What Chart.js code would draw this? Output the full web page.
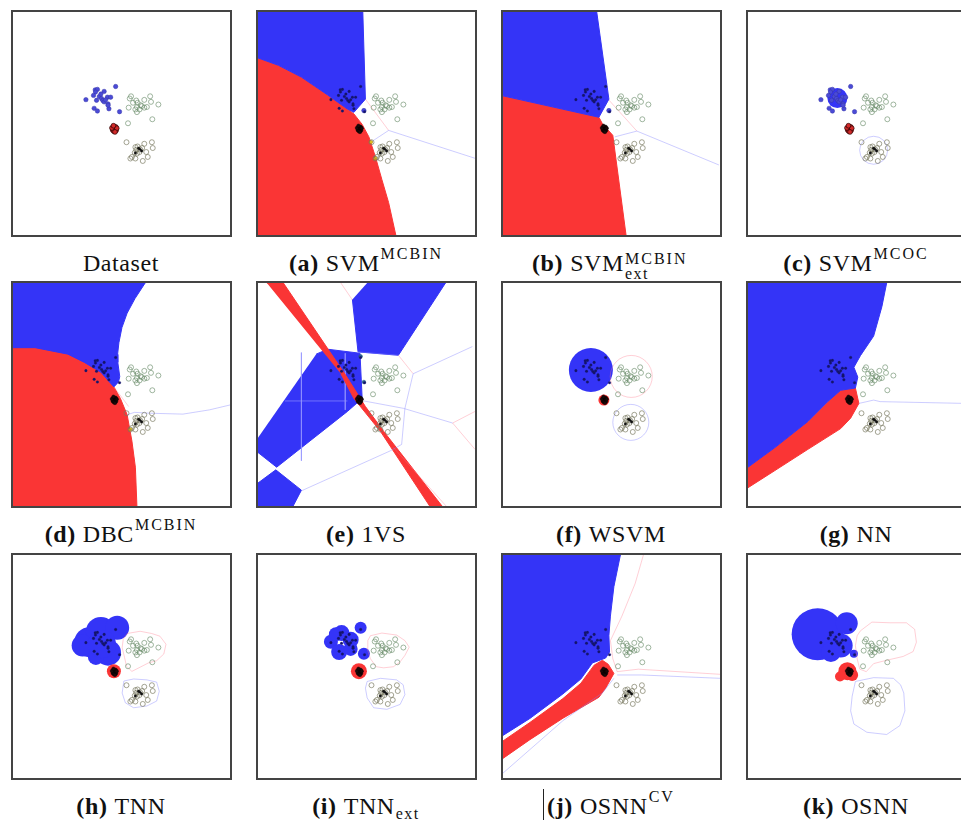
<!DOCTYPE html>
<html>
<head>
<meta charset="utf-8">
<script src="https://cdn.jsdelivr.net/npm/chart.js@4.4.0/dist/chart.umd.min.js"></script>
<style>
  body { margin: 0; background: #fff; width: 961px; height: 822px; overflow: hidden; position: relative; font-family: "Liberation Serif", serif; }
  .panel { position: absolute; width: 217px; height: 223px; border: 2px solid #444; background: #fff; }
  .panel canvas { display: block; }
  .cap { position: absolute; width: 320px; text-align: center; font-size: 24px; line-height: 24px; color: #111; letter-spacing: 0.6px; white-space: nowrap; }
  .cap b { margin-right: 7px; }
  .up { font-size: 16px; position: relative; top: -12px; letter-spacing: 2px; margin-left: 1px; }
  .dn { font-size: 16px; position: relative; top: 5px; letter-spacing: 1.5px; margin-left: 1px; }
  .ss { display: inline-block; position: relative; width: 66px; height: 10px; }
  .ss .a { position: absolute; left: 1px; top: -14px; font-size: 16px; letter-spacing: 2px; }
  .ss .b { position: absolute; left: 1px; top: 1px; font-size: 16px; letter-spacing: 1.5px; }
  .cursor { position: absolute; left: 543px; top: 789px; width: 1px; height: 31px; background: #222; }
</style>
</head>
<body>
<div class="cursor"></div>
<script>
// clusters (x 0-100 left to right, y 0-100 bottom to top)
const blueCluster = [[37.9,65.1],[38.9,65.3],[38.0,64.1],[37.1,62.6],[39.8,62.1],[42.0,64.4],[40.8,61.2],[41.4,60.3],[43.5,61.8],[45.0,61.8],[47.3,66.6],[33.6,60.7],[38.5,60.4],[42.0,59.7],[43.8,58.8],[44.2,56.6],[37.4,56.8],[38.9,55.6],[49.1,55.3],[42.7,60.6],[40.5,63.2],[43.8,58.2]];
const redCluster = [[46.2,48.3],[47.3,48.5],[46.8,47.5],[46.0,47.0],[47.5,46.9],[46.5,46.5],[47.8,47.9],[45.6,48.0],[47.0,46.2],[46.3,49.0]];
const greenCluster = [[53.8,61.2],[54.4,62.2],[56.8,60.3],[57.4,59.3],[60.5,60.6],[63.2,62.2],[63.6,59.7],[67.0,58.5],[53.3,57.1],[57.1,57.4],[58.3,56.3],[59.4,57.8],[60.5,57.1],[61.7,57.4],[58.8,58.2],[55.3,59.3],[57.1,55.1],[64.2,51.9],[53.0,50.1],[56.4,56.3]];
const lowerCluster = [[52.3,41.6],[56.4,39.4],[57.4,39.7],[58.6,38.4],[60.5,40.9],[64.0,41.6],[64.4,39.0],[57.1,36.5],[58.3,37.2],[61.4,37.2],[54.8,35.0],[56.4,34.3],[54.1,34.3],[59.8,33.2],[62.1,35.0],[56.1,36.9],[59.5,39.0],[56.8,38.2]];
const lowerCore = [[58.6,38.4],[59.3,37.7],[57.9,38.9],[56.4,36.8]];

// (a) SVM MCBIN
const svmBlue = [[0,100],[48.3,100],[49.5,60.9],[44.2,55.0],[41.2,56.5],[32.1,62.8],[20,70.8],[9.4,76.1],[0,79.4]];
const svmRed = [[0,79.4],[9.4,76.1],[20,70.8],[32.1,62.8],[41.2,56.5],[44.2,54.3],[48,49.6],[51.1,44.0],[54.1,35.1],[57.1,24.8],[60.2,14.5],[63.5,0],[0,0]];
const svmPink = [[49.5,60.9],[60.2,46.9]];
const svmLav = [[52.1,41.7],[60.2,46.9],[100,34.4]];
const svmMiss = [[48.8,55.8]];
const svmYellow = [[52.1,41.7],[54.1,34.4]];

// (b) SVM MCBIN ext
const extBlue = [[0,100],[43.2,100],[48.8,60.9],[44.2,52.8],[0,62.4]];
const extRed = [[0,62.4],[44.2,52.8],[45.8,49.9],[50.6,44.7],[56.7,0],[0,0]];
const extPink = [[48.8,60.5],[61.7,46.6]];
const extLav = [[51.5,44],[61.7,46.6],[99.5,31.4]];

// (c) SVM MCOC
const ocBlue = [[41.2,61.4]];
const ocRing = [[57.9,38]];

// (d) DBC MCBIN
const dbcBlue = [[0,100],[60.9,100],[56.2,93],[52.6,86.5],[50.2,80],[48.8,73.2],[48.2,68],[48.3,64.4],[49.2,58],[48.6,55.6],[46.5,53.4],[40.5,60],[32.9,64.4],[25.3,68.1],[10.2,71],[0,71]];
const dbcRed = [[0,71],[10.2,71.3],[25.3,68.4],[32.9,64.7],[40.5,60.3],[46.5,53.4],[49.5,48.2],[52.6,40.9],[54.8,29.1],[56.4,17.4],[57.1,0],[0,0]];
const dbcLav = [[52.6,40.9],[56,42],[63.2,41.6],[78.3,41.2],[90.5,43.1],[100,45.3]];
const dbcPink = [[46.5,53.4],[53.3,44.6]];
const dbcYellow = [[54.1,34.4]];

// (e) 1VS
const vsRed = [[4.1,100],[11.7,100],[40.5,58.5],[49.5,44.6],[57.9,33.5],[84.8,0],[79.1,0],[56.4,33.5],[44.2,48.2],[38.2,59.3]];
const vsBlueTop = [[50.3,100],[86.4,100],[64.7,67.6],[46.1,69.1],[43.5,92.6]];
const vsBlueMid = [[26.8,68.1],[32.1,70.3],[47,68.5],[48,48.2],[41.2,42.4],[8.6,17.4],[0,24],[0,30.6]];
const vsBlueLow = [[0,10.3],[8.2,16.2],[20,7.1],[16.2,0],[0,0]];
const vsPinkLines = [[[38.2,100],[43.5,92.4]],[[64.7,67.6],[71.5,59.3]],[[100,42.4],[89.7,37.2],[100,25.4]],[[62.4,26.2],[86.7,0]]];
const vsLavLines = [[[71.5,59.3],[98.8,71.5]],[[46.1,69.1],[64.7,67.6]],[[71.5,59.3],[67.7,43.8],[66.2,27.6]],[[48.8,47.1],[67,43.8],[89.7,37.2]],[[20,6.8],[60.9,24.7],[66.2,27.6]]];
const vsGridLines = [[[20,68.8],[20,20.3]],[[12.4,47.1],[41.2,47.1]],[[40.2,68.5],[40.2,43.1]]];
const vsMiss = [[47.3,67.1],[48.8,55.6]];

// (f) WSVM
const wsvmBlue = [[40.5,61]];
const wsvmRed = [[46.5,47.5]];
const wsvmPink = [[59.1,58.1]];
const wsvmLav = [[58.9,37.5]];

// (g) NN
const nnBlue = [[0,100],[63.9,100],[61.7,89.4],[57.9,76.2],[51.8,67.4],[48.8,62.2],[50.6,57.8],[49.5,52.9],[42.7,51.9],[36.7,46.8],[27.6,37.9],[12.4,26.2],[0,17.4]];
const nnRed = [[0,17.4],[12.4,26.2],[27.6,37.9],[36.7,46.8],[42.7,51.9],[49.5,52.9],[51.1,46],[47.3,39.4],[42.7,34.7],[27.6,25.4],[12.4,15.9],[0,8.2]];
const nnLav = [[51.1,46],[54.8,46.8],[57.9,47.5],[60.9,46.8],[100,46]];

// (h) TNN
const tnnBlue = [[35.2,60.9],[40.5,65.5],[48.0,67.4],[43.8,56.2],[32.1,59.4],[38.2,54.3],[41,60]];
const tnnRed = [[46.5,47.9]];
const tnnPink = [[52.6,64.8],[58.6,65.8],[63.9,64.8],[67.7,63.6],[70.5,60],[69.5,55.6],[66.2,52.6],[62.4,51.6],[58.6,49.7],[54.8,47.8],[52.3,50.1],[51.4,54.1],[50.3,58.5],[50.8,62.2],[52.6,64.8]];
const tnnLav = [[51.1,43.5],[55.6,44.4],[61.7,44],[66.2,43],[67.4,38.9],[66.2,34.5],[61.7,32.3],[55.6,31.5],[51.8,33.7],[50.3,38.1],[51.1,43.5]];

// (i) TNN ext
const extnBlue = [[33.6,61.1],[38.5,65],[42.7,62],[47.3,67.4],[48.8,55.7],[37.4,56.5],[42.7,57.9],[35.9,64.5]];
const extnRed = [[46.5,47.9]];
const extnPink = [[51.8,63.8],[57.1,65],[63.9,64.1],[67.7,61.6],[69.7,58.7],[67.7,55],[65.5,52.1],[62.4,49.9],[57.9,49.4],[54.5,49.9],[51.8,53.5],[50.3,58],[50.6,61.6],[51.8,63.8]];
const extnLav = [[50.3,43.3],[56.4,44.7],[63.9,44],[66.9,41.8],[67.7,37.4],[65.5,33],[59.4,30.8],[53.3,31.5],[50.3,35.9],[49.5,40.3],[50.3,43.3]];

// (j) OSNN CV
const cvBlue = [[0,100],[54.1,100],[51.1,85.8],[49.5,72.6],[48.8,63.8],[49.1,56.5],[47.3,53.8],[41.2,51.6],[35.9,44.4],[27.6,37.7],[12.4,26.7],[0,19.1]];
const cvRed = [[0,16.6],[12.4,24.9],[27.6,35.6],[35.9,42.5],[42,50.6],[45.8,52.8],[48.5,51],[51.1,46.9],[47.3,40.3],[44.2,36.2],[27.6,26.8],[12.4,17.2],[0,8.8]];
const cvPink = [[64.7,100],[60.9,87.2],[54.8,72.6],[49.5,61.6],[50.6,53.5],[52.6,47.7],[62.4,48.8],[100,46.5]];
const cvLavA = [[52.6,46.2],[63.9,46.2],[100,44.7]];
const cvLavB = [[51.1,44.7],[45.8,38.1],[38.2,33],[27.6,25.7],[0,2.2]];

// (k) OSNN
const osnnBlue = [[32.1,64.5],[45.5,69.4],[42.7,59.4],[48.8,55.7],[38.2,56.5]];
const osnnRed = [[45.8,47.9],[42.4,45.5],[48,46.2]];
const osnnPink = [[51.8,66],[57.1,69.9],[65.5,69.6],[73,69.6],[76.8,66.7],[77.6,60.9],[76.1,56.7],[71.5,54.5],[63.9,52.8],[57.9,51.3],[54.5,47.7],[51.5,48.8],[50.3,53.5],[49.5,59.4],[50.3,63.8],[51.8,66]];
const osnnLav = [[49.5,43.3],[57.9,45],[67,44.7],[70.3,41.8],[71.8,38.1],[72.3,30.1],[70,23.5],[63.9,19.5],[54.8,20.5],[48.8,24.2],[47.3,30.1],[48,36.7],[49.5,43.3]];

const captions = [
  "Dataset",
  "<b>(a)</b>SVM<span class='up'>MCBIN</span>",
  "<b>(b)</b>SVM<span class='ss'><span class='a'>MCBIN</span><span class='b'>ext</span></span>",
  "<b>(c)</b>SVM<span class='up'>MCOC</span>",
  "<b>(d)</b>DBC<span class='up'>MCBIN</span>",
  "<b>(e)</b>1VS",
  "<b>(f)</b>WSVM",
  "<b>(g)</b>NN",
  "<b>(h)</b>TNN",
  "<b>(i)</b>TNN<span class='dn'>ext</span>",
  "<b>(j)</b>OSNN<span class='up'>CV</span>",
  "<b>(k)</b>OSNN"
];

const BLUE = "#3434f7";
const RED = "#fa3535";
const PINK = "rgba(255,120,140,0.45)";
const LAV = "rgba(130,130,255,0.5)";

function xy(list) {
  return list.map(function (p) { return { x: p[0], y: p[1] }; });
}

function area(list, color) {
  return { data: xy(list), showLine: true, fill: "shape", backgroundColor: color, borderColor: color, borderWidth: 1, pointRadius: 0, tension: 0 };
}

function edge(list, color, width) {
  return { data: xy(list), showLine: true, fill: false, borderColor: color, borderWidth: width || 0.8, pointRadius: 0, tension: 0 };
}

function blob(list, sizes, color) {
  return { data: xy(list), pointRadius: sizes, pointBackgroundColor: color, pointBorderWidth: 0 };
}

function ring(list, sizes, color) {
  return { data: xy(list), pointRadius: sizes, pointBackgroundColor: "rgba(0,0,0,0)", pointBorderColor: color, pointBorderWidth: 0.8 };
}

function dots(list, r, fillColor, lineColor, w) {
  return { data: xy(list), pointRadius: r, pointBackgroundColor: fillColor, pointBorderColor: lineColor, pointBorderWidth: w };
}

function clusters(plain) {
  return [
    dots(greenCluster, 2.5, "rgba(255,255,255,0)", "rgba(105,140,105,0.8)", 0.8),
    dots(lowerCluster, 2.5, "rgba(255,255,255,0)", "rgba(120,120,95,0.85)", 0.8),
    dots(lowerCore, 1.2, "#111", "#111", 0.4),
    plain ? dots(blueCluster, 2.2, "#4b4bd6", "#3434a8", 0.5) : dots(blueCluster, 1.3, "#15156a", "#15156a", 0.3),
    plain ? dots(redCluster, 2.4, "#d22a2a", "#2a0000", 0.7) : dots(redCluster, 1.8, "#1a0808", "#000", 0.4)
  ];
}

// each entry: layers from bottom to top
const layers = [
  clusters(true),
  [area(svmRed, RED), area(svmBlue, BLUE), edge(svmPink, PINK), edge(svmLav, LAV),
    dots(svmMiss, 2.2, "#4545e0", "#2d2da0", 0.5), dots(svmYellow, 1.6, "#e0c020", "#a08000", 0.5)].concat(clusters(false)),
  [area(extRed, RED), area(extBlue, BLUE), edge(extPink, PINK), edge(extLav, LAV),
    dots(svmMiss, 2.2, "#4545e0", "#2d2da0", 0.5)].concat(clusters(false)),
  [blob(ocBlue, 10, BLUE), ring(ocRing, 14, LAV)].concat(clusters(true)),
  [area(dbcRed, RED), area(dbcBlue, BLUE), edge(dbcLav, LAV), edge(dbcPink, PINK),
    dots(dbcYellow, 1.6, "#e0c020", "#a08000", 0.5)].concat(clusters(false)),
  [area(vsBlueTop, BLUE), area(vsBlueMid, BLUE), area(vsBlueLow, BLUE)]
    .concat(vsGridLines.map(function (l) { return edge(l, "rgba(150,150,255,0.8)", 0.8); }))
    .concat([area(vsRed, RED)])
    .concat(vsPinkLines.map(function (l) { return edge(l, PINK); }))
    .concat(vsLavLines.map(function (l) { return edge(l, LAV); }))
    .concat([dots(vsMiss, 1.8, "#2e6f9a", "#1e4f70", 0.5)])
    .concat(clusters(false)),
  [blob(wsvmBlue, 22, BLUE), blob(wsvmRed, 5.5, RED), ring(wsvmPink, 21, PINK), ring(wsvmLav, 18, LAV)].concat(clusters(false)),
  [area(nnRed, RED), area(nnBlue, BLUE), edge(nnLav, LAV)].concat(clusters(false)),
  [blob(tnnBlue, [15, 15, 12, 13, 11, 8, 14], BLUE), blob(tnnRed, 7, RED), edge(tnnPink, PINK), edge(tnnLav, LAV)].concat(clusters(false)),
  [blob(extnBlue, [7, 8, 8, 6, 6, 8, 7, 7], BLUE), blob(extnRed, 8, RED), edge(extnPink, PINK), edge(extnLav, LAV)].concat(clusters(false)),
  [area(cvRed, RED), area(cvBlue, BLUE), edge(cvPink, PINK), edge(cvLavA, LAV), edge(cvLavB, LAV)].concat(clusters(false)),
  [blob(osnnBlue, [26, 11, 12, 4, 10], BLUE), blob(osnnRed, [9, 5, 6], RED), edge(osnnPink, PINK), edge(osnnLav, LAV)].concat(clusters(false))
];

const colLeft = [11, 256, 501, 746];
const rowTop = [10, 281, 553];
const capTop = [251, 522, 794];

layers.forEach(function (list, i) {
  const col = i % 4;
  const row = Math.floor(i / 4);

  const box = document.createElement("div");
  box.className = "panel";
  box.style.left = colLeft[col] + "px";
  box.style.top = rowTop[row] + "px";
  const canvas = document.createElement("canvas");
  canvas.width = 217;
  canvas.height = 223;
  box.appendChild(canvas);
  document.body.appendChild(box);

  const cap = document.createElement("div");
  cap.className = "cap";
  cap.style.left = (colLeft[col] + 110 - 160) + "px";
  cap.style.top = capTop[row] + "px";
  cap.innerHTML = captions[i];
  document.body.appendChild(cap);

  new Chart(canvas, {
    type: "scatter",
    data: { datasets: list.slice().reverse() },
    options: {
      responsive: false,
      animation: false,
      events: [],
      layout: { padding: 0, autoPadding: false },
      plugins: { legend: { display: false }, tooltip: { enabled: false } },
      scales: {
        x: { type: "linear", min: 0, max: 100, display: false },
        y: { type: "linear", min: 0, max: 100, display: false }
      }
    }
  });
});
</script>
</body>
</html>
